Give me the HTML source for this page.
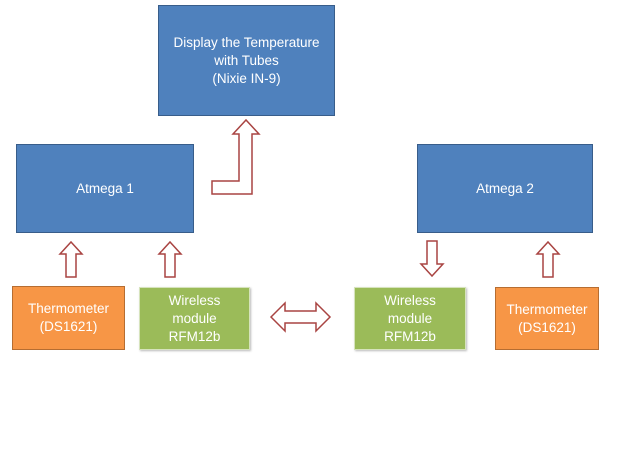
<!DOCTYPE html>
<html><head><style>
body{margin:0;width:620px;height:465px;background:#fff;position:relative;overflow:hidden;font-family:"Liberation Sans",sans-serif}
.b{position:absolute;box-sizing:border-box;display:flex;align-items:center;justify-content:center;text-align:center;color:#fff;font-size:13.5px;line-height:18px}
.bl{background:#4f81bd;border:1px solid #385d8a}
.or{background:#f79646;border:1px solid #b66d31}
.gr{background:#9bbb59;border:1px solid #d6e3bc;box-shadow:1px 1px 2px #bbb}
svg{position:absolute;left:0;top:0}
</style></head><body>
<div class="b bl" style="left:158px;top:5px;width:177px;height:111px">Display the Temperature<br>with Tubes<br>(Nixie IN-9)</div>
<div class="b bl" style="left:16px;top:144px;width:178px;height:89px">Atmega 1</div>
<div class="b bl" style="left:417px;top:144px;width:176px;height:89px">Atmega 2</div>
<div class="b or" style="left:12px;top:286px;width:113px;height:64px">Thermometer<br>(DS1621)</div>
<div class="b gr" style="left:139px;top:287px;width:111px;height:63px">Wireless<br>module<br>RFM12b</div>
<div class="b gr" style="left:354px;top:287px;width:112px;height:63px">Wireless<br>module<br>RFM12b</div>
<div class="b or" style="left:495px;top:287px;width:104px;height:63px">Thermometer<br>(DS1621)</div>
<svg width="620" height="465" fill="#fff" stroke="#a94442" stroke-width="1.5">
<polygon points="212,181 239,181 239,134 233,134 246,120 259,134 252,134 252,194 212,194"/>
<polygon points="66,277 66,254 60,254 71,242 82,254 76,254 76,277"/>
<polygon points="165,277 165,254 159,254 170,242 181,254 175,254 175,277"/>
<polygon points="427,241 437,241 437,264 443,264 432,276 421,264 427,264"/>
<polygon points="543,277 543,254 537,254 548,242 559,254 553,254 553,277"/>
<polygon points="271,317 285,303 285,311 316,311 316,303 330,317 316,331 316,323 285,323 285,331"/>
</svg>
</body></html>
